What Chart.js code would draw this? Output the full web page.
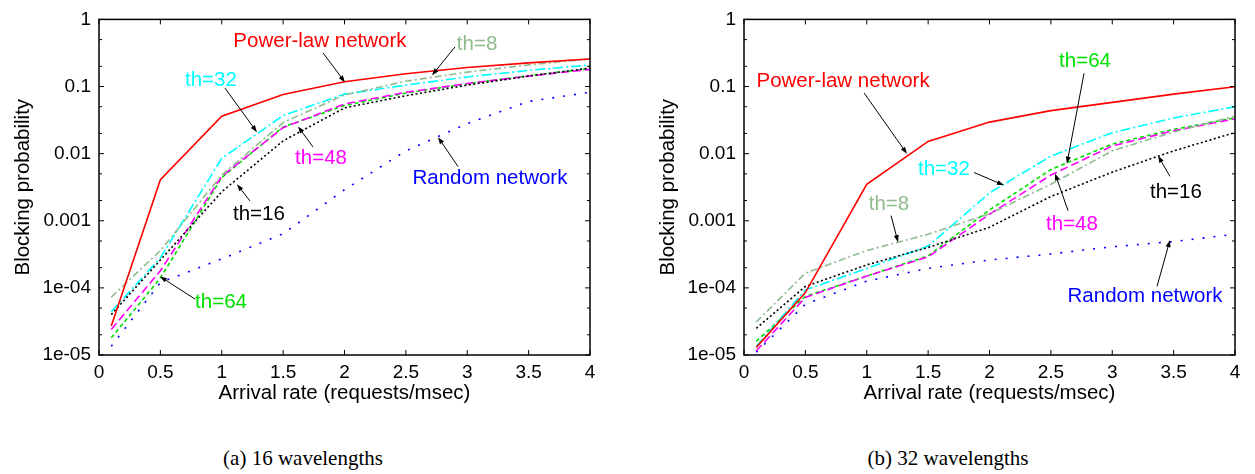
<!DOCTYPE html>
<html lang="en">
<head>
    <meta charset="UTF-8">
    <script src="https://cdn.jsdelivr.net/npm/chart.js"></script>
    <title>Blocking probability</title>
    <style>
        body { margin: 0; background: #fff; width: 1255px; height: 474px; overflow: hidden; position: relative; }
        canvas { position: absolute; top: 0; }
        .caption { position: absolute; top: 446px; width: 300px; text-align: center;
                   font-family: 'Liberation Serif', serif; font-size: 21px; color: #000; }
    </style>
</head>
<body>
    <canvas id="chart16" width="610" height="410" style="left:0px"></canvas>
    <canvas id="chart32" width="610" height="410" style="left:645px"></canvas>
    <div class="caption" style="left:153px">(a) 16 wavelengths</div>
    <div class="caption" style="left:798px">(b) 32 wavelengths</div>
<script>
// arrival rates (requests/msec)
var arrivalRates = [0.1, 0.5, 1, 1.5, 2, 2.5, 3, 3.5, 4];

// (a) 16 wavelengths
var powerLaw16 = [2.7e-5, 4.1e-3, 0.036, 0.076, 0.118, 0.155, 0.192, 0.225, 0.257];
var th8_16     = [7.3e-5, 3.6e-4, 4.8e-3, 0.029, 0.075, 0.12, 0.164, 0.21, 0.257];
var th16_16    = [4.0e-5, 2.6e-4, 2.7e-3, 0.0155, 0.048, 0.073, 0.105, 0.143, 0.188];
var th32_16    = [4.4e-5, 2.8e-4, 8.5e-3, 0.037, 0.077, 0.105, 0.139, 0.174, 0.21];
var th48_16    = [2.4e-5, 1.8e-4, 4.6e-3, 0.0244, 0.055, 0.082, 0.111, 0.143, 0.18];
var th64_16    = [1.8e-5, 1.4e-4, 4.4e-3, 0.025, 0.052, 0.08, 0.11, 0.145, 0.185];
var random16   = [1.35e-5, 1.2e-4, 2.7e-4, 6.4e-4, 2.9e-3, 0.011, 0.028, 0.06, 0.082];

// (b) 32 wavelengths
var powerLaw32 = [1.3e-5, 8.5e-5, 3.5e-3, 0.0152, 0.0295, 0.0437, 0.058, 0.077, 0.099];
var th8_32     = [3.1e-5, 1.66e-4, 3.6e-4, 6.3e-4, 1.27e-3, 3.5e-3, 0.011, 0.021, 0.036];
var th16_32    = [2.5e-5, 1.05e-4, 2.2e-4, 4.0e-4, 8.0e-4, 2.3e-3, 5.3e-3, 0.011, 0.0206];
var th32_32    = [1.35e-5, 9.3e-5, 1.95e-4, 4.2e-4, 2.6e-3, 9.2e-3, 0.0205, 0.034, 0.05];
var th48_32    = [1.15e-5, 7.2e-5, 1.5e-4, 2.9e-4, 1.25e-3, 4.8e-3, 0.013, 0.022, 0.033];
var th64_32    = [1.6e-5, 7.5e-5, 1.5e-4, 3.0e-4, 1.45e-3, 5.8e-3, 0.0139, 0.023, 0.034];
var random32   = [1.1e-5, 5.7e-5, 1.26e-4, 1.95e-4, 2.6e-4, 3.2e-4, 4.1e-4, 4.9e-4, 6.3e-4];

// tick labels
var xTickValues = [0, 0.5, 1, 1.5, 2, 2.5, 3, 3.5, 4];
var xTickLabels = ['0', '0.5', '1', '1.5', '2', '2.5', '3', '3.5', '4'];
var yTickValues = [1e-5, 1e-4, 1e-3, 1e-2, 1e-1, 1];
var yTickLabels = ['1e-05', '1e-04', '0.001', '0.01', '0.1', '1'];
var minorMultipliers = [2, 5];

var COLORS = {
    power: '#ff0000', th8: '#8fbc8f', th16: '#000000', th32: '#00ffff',
    th48: '#ff00ff', th64: '#00e000', random: '#0000ff'
};
var LABEL_FONT = "20.5px 'Liberation Sans', Arial, sans-serif";

Chart.defaults.font.family = "'Liberation Sans', Arial, sans-serif";
Chart.defaults.font.size = 19;
Chart.defaults.color = '#000';

function pts(values) {
    return values.map(function (v, i) { return { x: arrivalRates[i], y: v }; });
}

function ds(label, values, color, dash) {
    return { label: label, data: pts(values), borderColor: color, borderWidth: 1.6,
             borderDash: dash, pointRadius: 0, fill: false, tension: 0 };
}

// labels + arrows, given in data units: [x, log10(y)]
var notes16 = [
    { text: 'Power-law network', color: COLORS.power, at: [1.80, -0.32], from: [1.825, -0.50], to: [2.004, -0.936] },
    { text: 'th=8', color: COLORS.th8, at: [3.08, -0.365], from: [2.90, -0.41], to: [2.713, -0.833] },
    { text: 'th=32', color: COLORS.th32, at: [0.912, -0.906], from: [1.026, -1.023], to: [1.287, -1.681] },
    { text: 'th=48', color: COLORS.th48, at: [1.809, -2.076], from: [1.743, -1.90], to: [1.621, -1.594] },
    { text: 'th=16', color: COLORS.th16, at: [1.303, -2.909], from: [1.23, -2.705], to: [1.124, -2.456] },
    { text: 'th=64', color: COLORS.th64, at: [0.994, -4.21], from: [0.782, -4.167], to: [0.497, -3.83] },
    { text: 'Random network', color: COLORS.random, at: [3.185, -2.368], from: [2.925, -2.193], to: [2.762, -1.754] }
];
var notes32 = [
    { text: 'Power-law network', color: COLORS.power, at: [0.807, -0.921], from: [0.978, -1.096], to: [1.328, -2.003] },
    { text: 'th=64', color: COLORS.th64, at: [2.778, -0.629], from: [2.77, -0.804], to: [2.631, -2.149] },
    { text: 'th=32', color: COLORS.th32, at: [1.629, -2.237], from: [1.874, -2.281], to: [2.118, -2.471] },
    { text: 'th=8', color: COLORS.th8, at: [1.181, -2.749], from: [1.198, -2.924], to: [1.255, -3.319] },
    { text: 'th=48', color: COLORS.th48, at: [2.672, -3.056], from: [2.64, -2.851], to: [2.534, -2.295] },
    { text: 'th=16', color: COLORS.th16, at: [3.519, -2.573], from: [3.47, -2.339], to: [3.373, -2.032] },
    { text: 'Random network', color: COLORS.random, at: [3.267, -4.123], from: [3.365, -3.977], to: [3.47, -3.289] }
];

// frame, inward tick marks and the text labels with arrows
var framePlugin = {
    id: 'frame',
    afterDatasetsDraw: function (chart) {
        var ctx = chart.ctx, a = chart.chartArea;
        var xs = chart.scales.x, ys = chart.scales.y;
        ctx.save();
        ctx.strokeStyle = '#000';
        ctx.lineWidth = 1.5;
        ctx.strokeRect(a.left, a.top, a.right - a.left, a.bottom - a.top);
        ctx.lineWidth = 1;
        ctx.beginPath();
        xTickValues.forEach(function (v) {
            var px = xs.getPixelForValue(v);
            ctx.moveTo(px, a.bottom); ctx.lineTo(px, a.bottom - 5);
            ctx.moveTo(px, a.top); ctx.lineTo(px, a.top + 5);
        });
        yTickValues.forEach(function (v, i) {
            var py = ys.getPixelForValue(v);
            ctx.moveTo(a.left, py); ctx.lineTo(a.left + 5, py);
            ctx.moveTo(a.right, py); ctx.lineTo(a.right - 5, py);
            if (i < yTickValues.length - 1) {
                minorMultipliers.forEach(function (m) {
                    var pm = ys.getPixelForValue(v * m);
                    ctx.moveTo(a.left, pm); ctx.lineTo(a.left + 3, pm);
                    ctx.moveTo(a.right, pm); ctx.lineTo(a.right - 3, pm);
                });
            }
        });
        ctx.stroke();

        var notes = chart.options.plugins.frame.notes;
        ctx.font = LABEL_FONT;
        ctx.textAlign = 'center';
        ctx.textBaseline = 'middle';
        notes.forEach(function (n) {
            ctx.fillStyle = n.color;
            ctx.fillText(n.text, xs.getPixelForValue(n.at[0]), ys.getPixelForValue(Math.pow(10, n.at[1])));
            var x1 = xs.getPixelForValue(n.from[0]), y1 = ys.getPixelForValue(Math.pow(10, n.from[1]));
            var x2 = xs.getPixelForValue(n.to[0]), y2 = ys.getPixelForValue(Math.pow(10, n.to[1]));
            var ang = Math.atan2(y2 - y1, x2 - x1);
            ctx.strokeStyle = '#000';
            ctx.fillStyle = '#000';
            ctx.lineWidth = 1;
            ctx.beginPath();
            ctx.moveTo(x1, y1);
            ctx.lineTo(x2 - 5 * Math.cos(ang), y2 - 5 * Math.sin(ang));
            ctx.stroke();
            ctx.beginPath();
            ctx.moveTo(x2, y2);
            ctx.lineTo(x2 - 7 * Math.cos(ang) + 2.5 * Math.sin(ang), y2 - 7 * Math.sin(ang) - 2.5 * Math.cos(ang));
            ctx.lineTo(x2 - 7 * Math.cos(ang) - 2.5 * Math.sin(ang), y2 - 7 * Math.sin(ang) + 2.5 * Math.cos(ang));
            ctx.closePath();
            ctx.fill();
        });
        ctx.restore();
    }
};

function makeChart(id, series, notes) {
    var ctx = document.getElementById(id).getContext('2d');
    return new Chart(ctx, {
        type: 'line',
        data: {
            datasets: [
                ds('Power-law network', series[0], COLORS.power, []),
                ds('th=8', series[1], COLORS.th8, [7, 3, 2, 3]),
                ds('th=16', series[2], COLORS.th16, [2, 2.5]),
                ds('th=32', series[3], COLORS.th32, [10, 3, 2, 3]),
                ds('th=48', series[4], COLORS.th48, [8, 4]),
                ds('th=64', series[5], COLORS.th64, [4, 3]),
                ds('Random network', series[6], COLORS.random, [2, 9])
            ]
        },
        options: {
            responsive: false,
            animation: false,
            layout: { padding: { left: 0, top: 13, right: 20, bottom: 0 } },
            plugins: { legend: { display: false }, tooltip: { enabled: false }, frame: { notes: notes } },
            scales: {
                x: {
                    type: 'linear', min: 0, max: 4,
                    grid: { display: false, drawTicks: false },
                    border: { display: false },
                    afterBuildTicks: function (s) { s.ticks = xTickValues.map(function (v) { return { value: v }; }); },
                    afterFit: function (s) { s.height = 55; },
                    ticks: {
                        padding: 6, maxRotation: 0, autoSkip: false,
                        callback: function (v) { return xTickLabels[xTickValues.indexOf(v)]; }
                    },
                    title: { display: true, text: 'Arrival rate (requests/msec)', font: { size: 20.5 },
                             padding: { top: 0, bottom: 4 } }
                },
                y: {
                    type: 'logarithmic', min: 1e-5, max: 1,
                    grid: { display: false, drawTicks: false },
                    border: { display: false },
                    afterBuildTicks: function (s) { s.ticks = yTickValues.map(function (v) { return { value: v }; }); },
                    afterFit: function (s) { s.width = 99; },
                    ticks: {
                        padding: 8, autoSkip: false,
                        callback: function (v) { return yTickLabels[Math.round(Math.log10(v)) + 5]; }
                    },
                    title: { display: true, text: 'Blocking probability', font: { size: 20.5 },
                             padding: { top: 11, bottom: 0 } }
                }
            }
        },
        plugins: [framePlugin]
    });
}

makeChart('chart16', [powerLaw16, th8_16, th16_16, th32_16, th48_16, th64_16, random16], notes16);
makeChart('chart32', [powerLaw32, th8_32, th16_32, th32_32, th48_32, th64_32, random32], notes32);
</script>
</body>
</html>
